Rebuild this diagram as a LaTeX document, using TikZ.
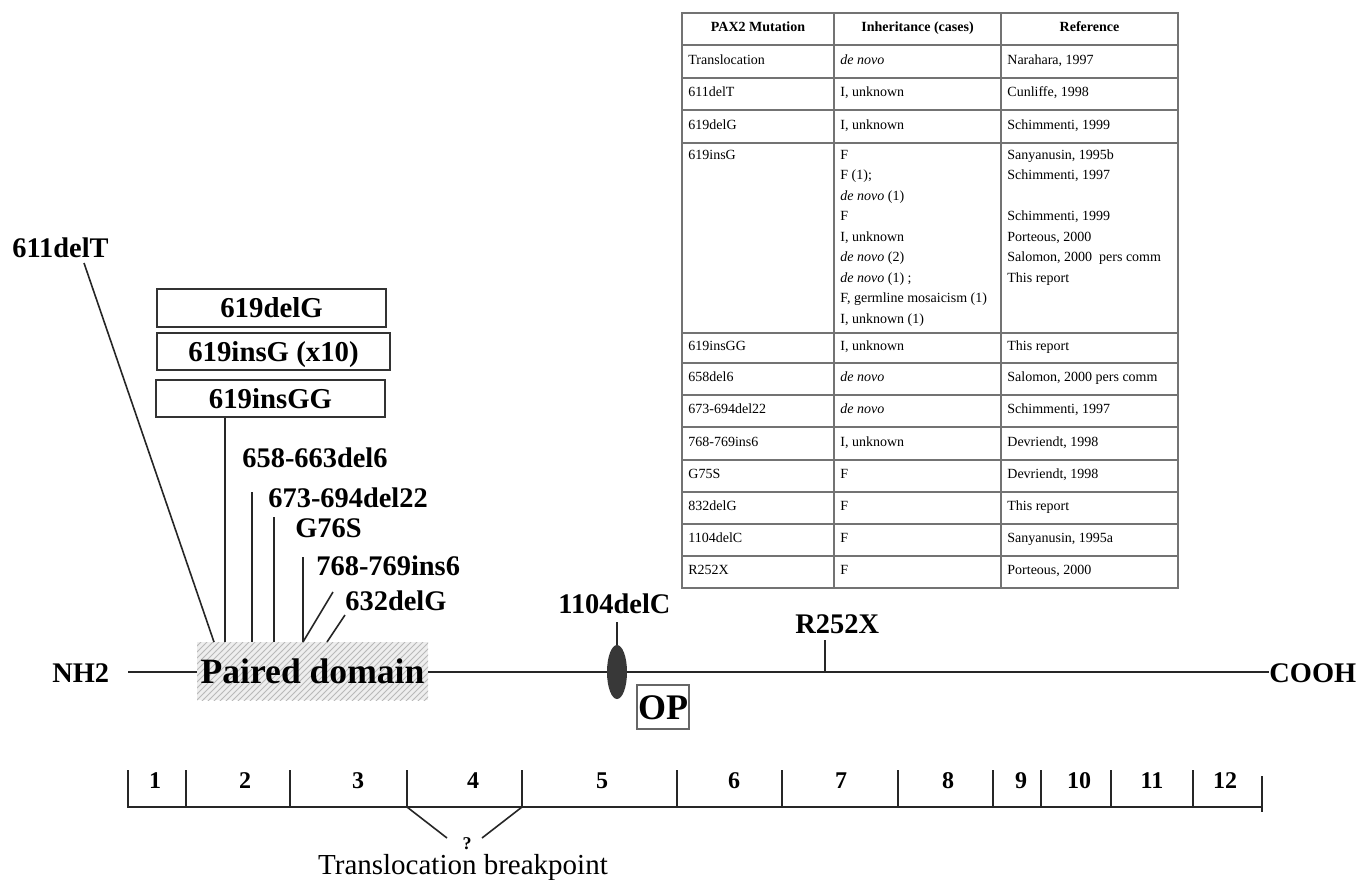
\documentclass[tikz,border=0pt]{standalone}
\usepackage{fontspec}
\setmainfont{Liberation Serif}
\usetikzlibrary{patterns,shapes.geometric}
\begin{document}
\begin{tikzpicture}[x=0.5pt,y=-0.5pt,
  ln/.style={line width=0.8pt, draw=black!85},
  lab/.style={font=\fontsize{14.2}{17}\selectfont\bfseries, inner sep=0pt, anchor=base west},
  mbox/.style={draw=black!80, line width=0.7pt, inner sep=0pt, minimum height=18.5pt,
    font=\fontsize{14.4}{17}\selectfont\bfseries, text height=9.7pt, text depth=0pt},
  tabt/.style={font=\fontsize{7}{10.25}\selectfont, inner sep=0pt, anchor=base west},
  tabh/.style={font=\fontsize{7}{10.25}\selectfont\bfseries, inner sep=0pt, anchor=base},
  grid/.style={draw=black!55, line width=0.6pt},
  exn/.style={font=\fontsize{12}{14}\selectfont\bfseries, inner sep=0pt, anchor=base},
]
\path[use as bounding box, fill=white] (0,0) rectangle (1359,879);

% ---------------- table ----------------
\draw[grid] (682,13) rectangle (1178,588);
\draw[grid] (834,13) -- (834,588) (1001,13) -- (1001,588);
\foreach \r in {45,78,110,143,333,363,395,427,460,492,524,556}
  \draw[grid] (682,\r) -- (1178,\r);
\node[tabh] (h1) at (758,31) {PAX2 Mutation};
\node[tabh] (h2) at (917.5,31) {Inheritance (cases)};
\node[tabh] (h3) at (1089.5,31) {Reference};
\foreach \yy/\a/\b/\c [count=\i] in {
  64/Translocation/{\textit{de novo}}/{Narahara, 1997},
  96.5/611delT/{I, unknown}/{Cunliffe, 1998},
  129/619delG/{I, unknown}/{Schimmenti, 1999},
  350.5/619insGG/{I, unknown}/{This report},
  381.5/658del6/{\textit{de novo}}/{Salomon, 2000 pers comm},
  413.5/673-694del22/{\textit{de novo}}/{Schimmenti, 1997},
  446/768-769ins6/{I, unknown}/{Devriendt, 1998},
  478.5/G75S/F/{Devriendt, 1998},
  510.5/832delG/F/{This report},
  542.5/1104delC/F/{Sanyanusin, 1995a},
  574.5/R252X/F/{Porteous, 2000}}{
  \node[tabt] (ra\i) at (688,\yy) {\a};
  \node[tabt] (rb\i) at (840,\yy) {\b};
  \node[tabt] (rc\i) at (1007,\yy) {\c};
}
\node[tabt] (ma) at (688,159) {619insG};
\foreach \t [count=\k from 0] in {F, {F (1);}, {\textit{de novo} (1)}, F, {I, unknown},
   {\textit{de novo} (2)}, {\textit{de novo} (1) ;}, {F, germline mosaicism (1)}, {I, unknown (1)}}
  \node[tabt] (mb\k) at (840,159+20.5*\k) {\t};
\foreach \t/\k in {{Sanyanusin, 1995b}/0, {Schimmenti, 1997}/1, {Schimmenti, 1999}/3,
   {Porteous, 2000}/4, {Salomon, 2000\ \ pers comm}/5, {This report}/6}
  \node[tabt] (mc\k) at (1007,159+20.5*\k) {\t};

% ---------------- protein ----------------
\node[inner sep=0pt, minimum width=115.5pt, minimum height=29pt,
      preaction={fill=gray!13}, pattern=north east lines, pattern color=gray!55,
      font=\fontsize{17.8}{20}\selectfont\bfseries, text height=12.1pt, text depth=0pt]
      (pd) at (312.5,671) {Paired domain};
\node[lab] (nh2) at (52,682) {NH2};
\node[lab] (cooh) at (1269,682) {COOH};
\coordinate (nhend) at (128,672);
\draw[ln] (nhend) -- (pd.west |- nhend);
\draw[ln] (pd.east |- nhend) -- (cooh.west |- nhend);

% boxes
\node[mbox, minimum width=114.5pt, minimum height=19pt] (b1) at (271.5,308) {619delG};
\node[mbox, minimum width=116.5pt] (b2) at (273.5,351.5) {619insG (x10)};
\node[mbox, minimum width=114.5pt] (b3) at (270.5,398.5) {619insGG};

% labels
\node[lab] (l611) at (12,257) {611delT};
\node[lab] (l658) at (242,467) {658-663del6};
\node[lab] (l673) at (268,507) {673-694del22};
\node[lab] (lG76) at (295,537) {G76S};
\node[lab] (l768) at (316,575) {768-769ins6};
\node[lab] (l632) at (345,610) {632delG};

% connectors to paired domain
\coordinate (t611) at (84,263);
\coordinate (p611) at (214,642);
\coordinate (pGG)  at (225,642);
\coordinate (t252) at (252,492);
\coordinate (p252) at (252,642);
\coordinate (t274) at (274,517);
\coordinate (p274) at (274,642);
\coordinate (t303) at (303,557);
\coordinate (p303) at (303,642);
\coordinate (td1)  at (333,592);
\coordinate (td2)  at (345,615);
\coordinate (pd2)  at (327,642);
\draw[ln] (t611) -- (p611);
\draw[ln] (b3.south -| pGG) -- (pGG);
\draw[ln] (t252) -- (p252);
\draw[ln] (t274) -- (p274);
\draw[ln] (t303) -- (p303);
\draw[ln] (td1) -- (p303);
\draw[ln] (td2) -- (pd2);

% 1104delC / OP
\node[ellipse, fill=black!78, inner sep=0pt, minimum width=10pt, minimum height=27pt] (ov) at (617,672) {};
\node[lab] (l1104) at (558,613) {1104delC};
\coordinate (t1104) at (617,622);
\draw[ln] (t1104) -- (ov.north);
\node[draw=black!60, line width=0.6pt, inner sep=0pt, minimum width=26pt, minimum height=22pt,
      font=\fontsize{18}{20}\selectfont\bfseries, text height=12pt, text depth=0pt] (op) at (663,707) {OP};

% R252X
\node[lab] (lR) at (795,633) {R252X};
\coordinate (tR) at (825,640);
\draw[ln] (tR) -- (tR |- nhend);

% ---------------- exon ruler ----------------
\coordinate (r0) at (128,807);
\coordinate (r1) at (1262,807);
\draw[ln] (128,770) -- (r0) -- (r1) -- (1262,812);
\draw[ln] (1262,807) -- (1262,776);
\foreach \xx in {186,290,407,522,677,782,898,993,1041,1111,1193}
  \draw[ln] (\xx,770) -- (\xx,807);
\foreach \xx/\n in {155/1,245/2,358/3,473/4,602/5,734/6,841/7,948/8,1021/9,1079/10,1152/11,1225/12}
  \node[exn] (e\n) at (\xx,788) {\n};

% translocation breakpoint
\coordinate (k1) at (407,807);
\coordinate (k2) at (522,807);
\node[inner sep=0pt, anchor=base, font=\fontsize{9}{11}\selectfont\bfseries] (q) at (467,849) {?};
\node[inner sep=0pt, anchor=base, font=\fontsize{14.5}{17}\selectfont] (tb) at (463,874) {Translocation breakpoint};
\coordinate (k1e) at (447,838);
\coordinate (k2e) at (482,838);
\draw[ln] (k1) -- (k1e);
\draw[ln] (k2) -- (k2e);
\end{tikzpicture}
\end{document}
